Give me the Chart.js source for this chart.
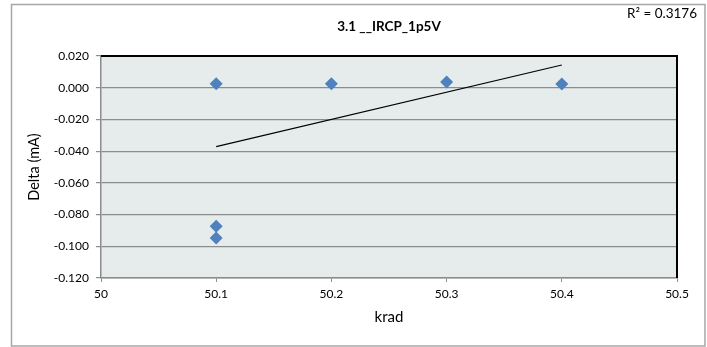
<!DOCTYPE html>
<html>
<head>
<meta charset="utf-8">
<script src="https://cdn.jsdelivr.net/npm/chart.js@4.4.1/dist/chart.umd.min.js"></script>
<style>
  html, body { margin: 0; padding: 0; background: #fff; }
  canvas { display: block; }
</style>
</head>
<body>
<canvas id="chart" width="707" height="347"></canvas>
<script>
// ── Data ──────────────────────────────────────
const kradValues  = [50.1, 50.1, 50.1, 50.2, 50.3, 50.4];
const deltaValues = [0.0025, -0.0874, -0.0947, 0.0025, 0.0036, 0.0023];
const trendX = [50.1, 50.4];
const trendY = [-0.0371, 0.0143];
const xMin = 50, xMax = 50.5, xStep = 0.1;
const yMin = -0.12, yMax = 0.02, yStep = 0.02;
const chartTitle = '3.1 __IRCP_1p5V';
const rSquared = 'R² = 0.3176';

const FONT = 'Lato, "Open Sans", sans-serif';

// ── Frame, plot fill, title, R² ──────────────
const framePlugin = {
    id: 'frame',
    beforeDraw(chart) {
        const { ctx, chartArea: a } = chart;
        ctx.save();
        ctx.fillStyle = '#fff';
        ctx.fillRect(0, 0, chart.width, chart.height);
        ctx.strokeStyle = '#a6a6a6';
        ctx.lineWidth = 1.5;
        ctx.strokeRect(11.5, 4.5, 693.5, 341.5);
        ctx.fillStyle = '#e6ecec';
        ctx.fillRect(a.left, a.top, a.right - a.left, a.bottom - a.top);
        ctx.restore();
    },
    afterDraw(chart) {
        const { ctx, chartArea: a } = chart;
        ctx.save();
        ctx.strokeStyle = '#000';
        ctx.lineWidth = 2;
        ctx.beginPath();
        ctx.moveTo(a.left, a.top);
        ctx.lineTo(a.right, a.top);
        ctx.lineTo(a.right, a.bottom);
        ctx.stroke();

        ctx.fillStyle = '#000';
        ctx.textBaseline = 'middle';
        ctx.textAlign = 'center';
        ctx.font = 'bold 13.5px ' + FONT;
        ctx.fillText(chartTitle, (a.left + a.right) / 2, 27);
        ctx.textAlign = 'right';
        ctx.font = '13.5px ' + FONT;
        ctx.fillText(rSquared, 697, 14);
        ctx.restore();
    }
};

new Chart(document.getElementById('chart'), {
    type: 'scatter',
    data: {
        datasets: [
            {
                label: 'Delta',
                data: kradValues.map((x, i) => ({ x, y: deltaValues[i] })),
                pointStyle: 'rectRot',
                pointRadius: 6.5,
                pointHoverRadius: 6.5,
                backgroundColor: '#4f81bd',
                borderColor: '#4f81bd',
                borderWidth: 0,
            },
            {
                label: 'Trend',
                type: 'line',
                data: trendX.map((x, i) => ({ x, y: trendY[i] })),
                borderColor: '#000',
                borderWidth: 1.2,
                pointRadius: 0,
                fill: false,
            },
        ],
    },
    options: {
        responsive: false,
        animation: false,
        layout: { padding: { left: 0, right: 30, top: 56, bottom: 0 } },
        plugins: {
            legend: { display: false },
            tooltip: { enabled: false },
            title: { display: false },
        },
        scales: {
            x: {
                type: 'linear',
                min: xMin,
                max: xMax,
                afterFit(scale) { scale.height = 69; },
                ticks: {
                    stepSize: xStep,
                    color: '#000',
                    padding: 5,
                    font: { family: FONT, size: 12 },
                    callback: v => String(Number(v.toFixed(1))),
                },
                grid: { drawOnChartArea: false, drawTicks: true, tickLength: 4, color: '#8c8c8c' },
                border: { color: '#8c8c8c', width: 1.5 },
                title: {
                    display: true,
                    text: 'krad',
                    color: '#000',
                    font: { family: FONT, size: 15 },
                    padding: { top: 0, bottom: 21 },
                },
            },
            y: {
                type: 'linear',
                min: yMin,
                max: yMax,
                afterFit(scale) { scale.width = 101; },
                ticks: {
                    stepSize: yStep,
                    color: '#000',
                    padding: 7,
                    font: { family: FONT, size: 12 },
                    callback: v => (Math.abs(v) < 1e-9 ? 0 : v).toFixed(3),
                },
                grid: { color: '#8c8c8c', lineWidth: 1.2, tickLength: 5 },
                border: { color: '#8c8c8c', width: 1.5 },
                title: {
                    display: true,
                    text: 'Delta (mA)',
                    color: '#000',
                    font: { family: FONT, size: 14.5 },
                    padding: { top: 26, bottom: 0 },
                },
            },
        },
    },
    plugins: [framePlugin],
});
</script>
</body>
</html>
